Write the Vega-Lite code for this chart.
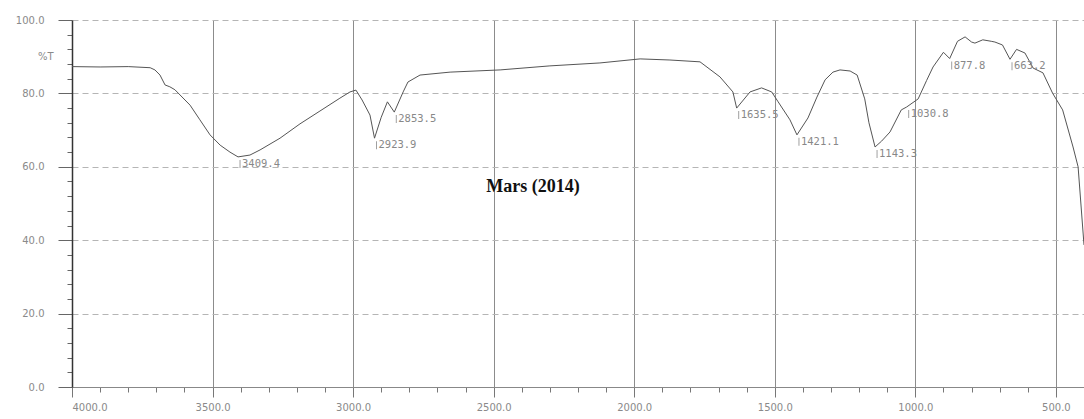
{
  "$schema": "https://vega.github.io/schema/vega-lite/v6.json",
  "width": 1012,
  "height": 367,
  "autosize": {"type": "none"},
  "padding": {"left": 72, "top": 20, "right": 0, "bottom": 32},
  "background": "white",
  "config": {
    "view": {"stroke": null},
    "axis": {"labelFont": "DejaVu Sans", "labelFontSize": 10, "labelColor": "#8a8a8a", "titleColor": "#8a8a8a"}
  },
  "datasets": {
    "spectrum": [
      {"wn": 4000, "T": 87.3}, {"wn": 3900, "T": 87.2}, {"wn": 3800, "T": 87.3}, {"wn": 3722, "T": 87.0},
      {"wn": 3705, "T": 86.4}, {"wn": 3687, "T": 85.0}, {"wn": 3669, "T": 82.3}, {"wn": 3652, "T": 81.8},
      {"wn": 3634, "T": 81.0}, {"wn": 3580, "T": 76.8}, {"wn": 3545, "T": 72.8}, {"wn": 3509, "T": 68.7},
      {"wn": 3473, "T": 65.9}, {"wn": 3438, "T": 64.0}, {"wn": 3409.4, "T": 62.7}, {"wn": 3367, "T": 63.2},
      {"wn": 3331, "T": 64.6}, {"wn": 3260, "T": 67.8}, {"wn": 3189, "T": 71.7}, {"wn": 3118, "T": 75.2},
      {"wn": 3047, "T": 78.7}, {"wn": 3011, "T": 80.4}, {"wn": 2990, "T": 80.9}, {"wn": 2968, "T": 78.2},
      {"wn": 2940, "T": 74.1}, {"wn": 2923.9, "T": 67.8}, {"wn": 2900, "T": 73.5}, {"wn": 2878, "T": 77.7},
      {"wn": 2853.5, "T": 74.9}, {"wn": 2822, "T": 80.4}, {"wn": 2805, "T": 83.1}, {"wn": 2762, "T": 85.0},
      {"wn": 2655, "T": 85.8}, {"wn": 2477, "T": 86.4}, {"wn": 2300, "T": 87.5}, {"wn": 2122, "T": 88.3},
      {"wn": 1979, "T": 89.4}, {"wn": 1873, "T": 89.1}, {"wn": 1766, "T": 88.6}, {"wn": 1695, "T": 84.5},
      {"wn": 1649, "T": 80.4}, {"wn": 1635.5, "T": 76.0}, {"wn": 1588, "T": 80.4}, {"wn": 1547, "T": 81.5},
      {"wn": 1511, "T": 80.4}, {"wn": 1488, "T": 77.7}, {"wn": 1446, "T": 72.8}, {"wn": 1421.1, "T": 68.7},
      {"wn": 1382, "T": 73.3}, {"wn": 1350, "T": 79.0}, {"wn": 1321, "T": 83.7}, {"wn": 1293, "T": 85.8},
      {"wn": 1268, "T": 86.4}, {"wn": 1232, "T": 86.1}, {"wn": 1207, "T": 85.0}, {"wn": 1180, "T": 78.5},
      {"wn": 1165, "T": 72.0}, {"wn": 1143.3, "T": 65.4}, {"wn": 1120, "T": 67.0}, {"wn": 1090, "T": 69.5},
      {"wn": 1050, "T": 75.5}, {"wn": 1030.8, "T": 76.3}, {"wn": 990, "T": 78.5}, {"wn": 960, "T": 83.5},
      {"wn": 937, "T": 87.2}, {"wn": 900, "T": 91.2}, {"wn": 877.8, "T": 89.5}, {"wn": 850, "T": 94.2},
      {"wn": 823, "T": 95.4}, {"wn": 800, "T": 94.0}, {"wn": 788, "T": 93.7}, {"wn": 760, "T": 94.6},
      {"wn": 730, "T": 94.2}, {"wn": 717, "T": 94.0}, {"wn": 690, "T": 93.2}, {"wn": 663.2, "T": 89.3},
      {"wn": 640, "T": 92.0}, {"wn": 610, "T": 91.0}, {"wn": 581, "T": 86.9}, {"wn": 546, "T": 85.6},
      {"wn": 512, "T": 80.1}, {"wn": 476, "T": 75.5}, {"wn": 439, "T": 65.4}, {"wn": 421, "T": 60.0},
      {"wn": 400, "T": 38.7}
    ],
    "peaks": [
      {"wn": 3409.4, "T": 62.7, "label": "3409.4"},
      {"wn": 2923.9, "T": 67.8, "label": "2923.9"},
      {"wn": 2853.5, "T": 74.9, "label": "2853.5"},
      {"wn": 1635.5, "T": 76.0, "label": "1635.5"},
      {"wn": 1421.1, "T": 68.7, "label": "1421.1"},
      {"wn": 1143.3, "T": 65.4, "label": "1143.3"},
      {"wn": 1030.8, "T": 76.3, "label": "1030.8"},
      {"wn": 877.8, "T": 89.5, "label": "877.8"},
      {"wn": 663.2, "T": 89.3, "label": "663.2"}
    ],
    "heading": [{"wn": 2360, "T": 54.5, "txt": "Mars (2014)"}]
  },
  "layer": [
    {
      "data": {"name": "spectrum"},
      "mark": {"type": "line", "color": "#555555", "strokeWidth": 1},
      "encoding": {
        "x": {
          "field": "wn", "type": "quantitative",
          "scale": {"domain": [4000, 400], "nice": false, "zero": false},
          "axis": {
            "title": null,
            "tickCount": 200,
            "values": [4000,3900,3800,3700,3600,3500,3400,3300,3200,3100,3000,2900,2800,2700,2600,2500,2400,2300,2200,2100,2000,1900,1800,1700,1600,1500,1400,1300,1200,1100,1000,900,800,700,600,500,400],
            "labelExpr": "datum.value % 500 === 0 ? format(datum.value, '.1f') : ''",
            "labelOverlap": false,
            "labelPadding": 5,
            "grid": true,
            "gridColor": {"condition": {"test": "datum.value % 500 === 0 && datum.value < 4000", "value": "#8c8c8c"}, "value": "transparent"},
            "gridWidth": 1,
            "tickSize": {"condition": {"test": "datum.value % 500 === 0", "value": 10}, "value": 5},
            "tickColor": "#777777",
            "domainColor": "#888888"
          }
        },
        "y": {
          "field": "T", "type": "quantitative",
          "scale": {"domain": [0, 100], "nice": false, "zero": false},
          "axis": {
            "title": null,
            "tickCount": 200,
            "values": [0,4,8,12,16,20,24,28,32,36,40,44,48,52,56,60,64,68,72,76,80,84,88,90,92,96,100],
            "labelExpr": "datum.value === 90 ? '%T' : (datum.value % 20 === 0 ? format(datum.value, '.1f') : '')",
            "labelOverlap": false,
            "labelPadding": 14,
            "grid": true,
            "gridColor": {"condition": {"test": "datum.value % 20 === 0 && datum.value > 0", "value": "#b5b5b5"}, "value": "transparent"},
            "gridDash": [6, 4],
            "tickSize": {"condition": {"test": "datum.value % 20 === 0", "value": 14}, "value": 5},
            "tickOpacity": {"condition": {"test": "datum.value === 90", "value": 0}, "value": 1},
            "tickColor": "#666666",
            "domainColor": "#333333",
            "domainWidth": 1.5
          }
        }
      }
    },
    {
      "data": {"name": "peaks"},
      "mark": {"type": "tick", "orient": "vertical", "size": 8, "thickness": 1, "color": "#777777", "yOffset": 7, "xOffset": 2},
      "encoding": {
        "x": {"field": "wn", "type": "quantitative"},
        "y": {"field": "T", "type": "quantitative"}
      }
    },
    {
      "data": {"name": "peaks"},
      "mark": {"type": "text", "align": "left", "baseline": "middle", "dx": 4, "dy": 7, "font": "DejaVu Sans Mono", "fontSize": 10.5, "color": "#888888"},
      "encoding": {
        "x": {"field": "wn", "type": "quantitative"},
        "y": {"field": "T", "type": "quantitative"},
        "text": {"field": "label"}
      }
    },
    {
      "data": {"name": "heading"},
      "mark": {"type": "text", "align": "center", "baseline": "middle", "font": "Liberation Serif", "fontWeight": "bold", "fontSize": 18, "color": "#111111"},
      "encoding": {
        "x": {"field": "wn", "type": "quantitative"},
        "y": {"field": "T", "type": "quantitative"},
        "text": {"field": "txt"}
      }
    }
  ]
}
